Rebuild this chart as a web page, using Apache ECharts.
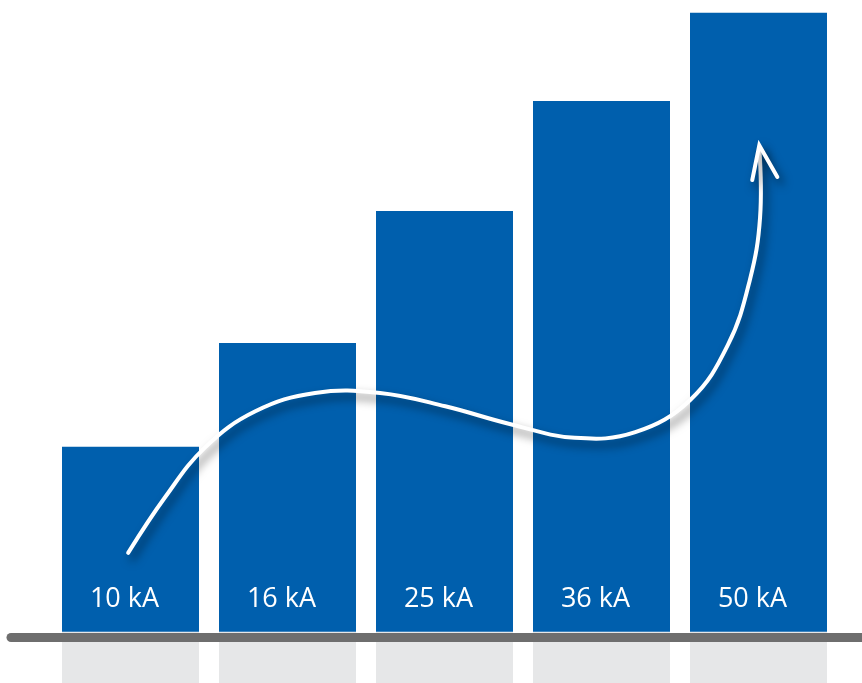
<!DOCTYPE html>
<html>
<head>
<meta charset="utf-8">
<script src="https://cdn.jsdelivr.net/npm/echarts@6/dist/echarts.min.js"></script>
<style>
  html, body { margin: 0; padding: 0; background: #fff; }
  #chart { width: 862px; height: 683px; }
</style>
</head>
<body>
<div id="chart"></div>
<script>
// bar labels and relative bar heights (0-100 scale)
const categories = ['10 kA', '16 kA', '25 kA', '36 kA', '50 kA']
const barHeights = [29.3, 45.7, 66.6, 84.0, 98.0]
// mirrored "floor" under each bar
const reflectDepth = [-8.1, -8.1, -8.1, -8.1, -8.1]

// white trend arrow, in [x 0-100, y 0-100] units of the plot
const arrowX = [9.7, 14.4, 19.5, 25.9, 33.5, 41.8, 50.1, 58.3, 66.6, 74.3, 81.3, 86.1, 88.9, 90.2, 90.1]
const arrowY = [12.5, 21.3, 29.2, 34.9, 37.8, 37.8, 35.7, 32.9, 30.7, 31.6, 36.7, 45.4, 55.7, 65.6, 76.7]
const headX = [89.2, 90.1, 92.4]
const headY = [71.5, 77.0, 72.0]

const blue = '#005fad'
const chart = echarts.init(document.getElementById('chart'))

const arrowStyle = {
  stroke: '#fff',
  fill: null,
  lineWidth: 4,
  lineCap: 'round',
  lineJoin: 'miter',
  shadowColor: 'rgba(0,0,0,0.55)',
  shadowBlur: 10,
  shadowOffsetX: 4,
  shadowOffsetY: 6
}

// draws the whole arrow once, points mapped through the axes
const renderArrow = (params, api) => {
  if (params.dataIndex !== 0) return null
  const body = arrowX.map((x, i) => api.coord([x, arrowY[i]]))
  const head = headX.map((x, i) => api.coord([x, headY[i]]))
  return {
    type: 'group',
    children: [
      { type: 'polyline', shape: { points: body, smooth: 0.4 }, style: arrowStyle },
      { type: 'polyline', shape: { points: head }, style: arrowStyle }
    ]
  }
}

chart.setOption({
  animation: false,
  grid: [
    { left: 52, right: 25, top: 0, bottom: 0 },
    // full-width floor line
    { left: 11, right: 0, top: 0, bottom: 46 }
  ],
  xAxis: [
    { type: 'category', data: categories, gridIndex: 0, show: false },
    { type: 'value', min: 0, max: 100, gridIndex: 0, show: false },
    {
      type: 'category', data: [''], gridIndex: 1, z: 10,
      axisLine: { show: true, lineStyle: { color: '#6e6e6e', width: 9 } },
      axisTick: { show: false },
      axisLabel: { show: false }
    }
  ],
  yAxis: [
    { type: 'value', min: -8.1, max: 100, gridIndex: 0, show: false },
    { type: 'value', gridIndex: 1, show: false }
  ],
  series: [
    {
      type: 'bar',
      xAxisIndex: 0,
      yAxisIndex: 0,
      data: reflectDepth,
      barWidth: 137,
      barGap: '-100%',
      itemStyle: { color: '#e6e7e8' },
      silent: true
    },
    {
      type: 'bar',
      xAxisIndex: 0,
      yAxisIndex: 0,
      data: barHeights,
      barWidth: 137,
      barGap: '-100%',
      itemStyle: { color: blue },
      label: {
        show: true,
        position: 'insideBottom',
        distance: 19,
        offset: [-6, 0],
        formatter: p => categories[p.dataIndex],
        color: '#fff',
        fontFamily: 'Open Sans',
        fontSize: 27
      }
    },
    {
      type: 'custom',
      coordinateSystem: 'cartesian2d',
      xAxisIndex: 1,
      yAxisIndex: 0,
      z: 5,
      silent: true,
      data: arrowX.map((x, i) => [x, arrowY[i]]),
      encode: { x: 0, y: 1 },
      renderItem: renderArrow
    }
  ]
})
</script>
</body>
</html>
